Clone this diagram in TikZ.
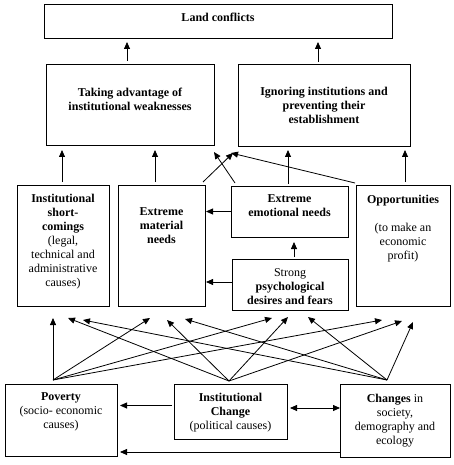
\documentclass[tikz,border=0pt]{standalone}
\usepackage{fontspec}
\setmainfont{Liberation Serif}
\usetikzlibrary{arrows.meta,calc}
\newcommand\bt[4]{\parbox[c][#2pt][t]{#1pt}{\centering\vspace*{#3pt}#4\par}}
\begin{document}
\begin{tikzpicture}[x=1pt,y=-1pt,
  box/.style={draw,line width=0.8pt,inner sep=0pt,outer sep=0pt,anchor=north west,font=\fontsize{12}{14}\selectfont},
  arr/.style={-{Triangle[length=7pt,width=6pt]},line width=0.8pt},
  darr/.style={{Triangle[length=7pt,width=6pt]}-{Triangle[length=7pt,width=6pt]},line width=0.8pt}]
\useasboundingbox[fill=white] (0,0) rectangle (454,465);
% boxes
\node[box] (land) at (44,4) {\bt{348}{34}{8.7}{\textbf{Land conflicts}}};
\node[box] (take) at (46,64) {\bt{168}{81}{23.7}{\textbf{Taking advantage of\\institutional weaknesses}}};
\node[box] (ign) at (238,64) {\bt{172}{82}{22.7}{\textbf{Ignoring institutions and\\preventing their\\establishment}}};
\node[box] (isc) at (17,185) {\bt{92}{121}{8.7}{\textbf{Institutional\\short-\\comings}\\(legal,\\technical and\\administrative\\causes)}};
\node[box] (mat) at (118,185) {\bt{87}{121}{22.7}{\textbf{Extreme\\material\\needs}}};
\node[box] (emo) at (231,186) {\bt{117}{51}{8.7}{\textbf{Extreme\\emotional needs}}};
\node[box] (str) at (232,259) {\bt{116}{51}{9.7}{Strong\\\textbf{psychological\\desires and fears}}};
\node[box] (opp) at (356,185) {\bt{94}{121}{9.7}{\textbf{Opportunities}\\[14pt](to make an\\economic\\profit)}};
\node[box] (pov) at (5,384) {\bt{112}{72}{8.7}{\textbf{Poverty}\\(socio- economic\\causes)}};
\node[box] (inst) at (174,384) {\bt{113}{55}{8.7}{\textbf{Institutional\\Change}\\(political causes)}};
\node[box] (chg) at (340,384) {\bt{110}{73}{9.7}{\textbf{Changes} in\\society,\\demography and\\ecology}};
% upper arrows
\draw[arr] ($(take.north)+(-3,-3)$) -- ($(take.north |- land.south)+(-3,4)$);
\draw[arr] ($(ign.north)+(-6,-2)$) -- ($(ign.north |- land.south)+(-6,4)$);
\draw[arr] ($(isc.north)+(-1,-3)$) -- ($(isc.north |- take.south)+(-1,5)$);
\draw[arr] ($(mat.north)+(-6.5,-3)$) -- ($(mat.north |- take.south)+(-6.5,5)$);
\draw[arr] ($(emo.north)+(-1.5,-2)$) -- ($(emo.north |- ign.south)+(-1.5,4)$);
\draw[arr] ($(opp.north)+(2,-3)$) -- ($(opp.north |- ign.south)+(2,4)$);
\draw[arr] ($(mat.north east)+(-2,-3)$) -- ($(take.south east)+(19,8)$);
\draw[arr] ($(emo.north west)+(4,-3)$) -- ($(take.south east)+(0,7)$);
\draw[arr] ($(opp.north west)+(-1,-2)$) -- ($(take.south east)+(17,8)$);
% middle arrows
\draw[arr] (emo.west) -- ($(emo.west -| mat.east)+(1,0)$);
\draw[arr] ($(str.west)+(0,-2.5)$) -- ($(str.west -| mat.east)+(1,-2.5)$);
\draw[arr] ($(str.north)+(4,-2)$) -- ($(str.north |- emo.south)+(4,5)$);
% bottom arrows
\draw[arr] ($(inst.west)+(-2,-6)$) -- ($(inst.west -| pov.east)+(3,-6)$);
\draw[darr] ($(inst.east)+(3,-3.5)$) -- ($(inst.east -| chg.west)+(0,-3.5)$);
\draw[arr] ($(chg.west)+(0,31.5)$) -- ($(chg.west -| pov.east)+(3,31.5)$);
% fan
\coordinate (ps) at ($(pov.north)+(-8,-4)$);
\coordinate (is) at ($(inst.north)+(-1.5,-3)$);
\coordinate (cs) at ($(chg.north)+(-8,-4)$);
\draw[arr] (ps) -- ($(isc.south west)+(36,12)$);
\draw[arr] (ps) -- ($(mat.south west)+(32,12)$);
\draw[arr] (ps) -- ($(str.south west)+(40,8)$);
\draw[arr] (ps) -- ($(opp.south west)+(26,14)$);
\draw[arr] (is) -- ($(isc.south west)+(51,12)$);
\draw[arr] (is) -- ($(mat.south west)+(49,14)$);
\draw[arr] (is) -- ($(str.south west)+(56,7)$);
\draw[arr] (is) -- ($(opp.south west)+(46,15)$);
\draw[arr] (cs) -- ($(isc.south west)+(66,14)$);
\draw[arr] (cs) -- ($(mat.south west)+(67,13)$);
\draw[arr] (cs) -- ($(str.south west)+(76,7)$);
\draw[arr] (cs) -- ($(opp.south west)+(57,16)$);
\end{tikzpicture}
\end{document}
